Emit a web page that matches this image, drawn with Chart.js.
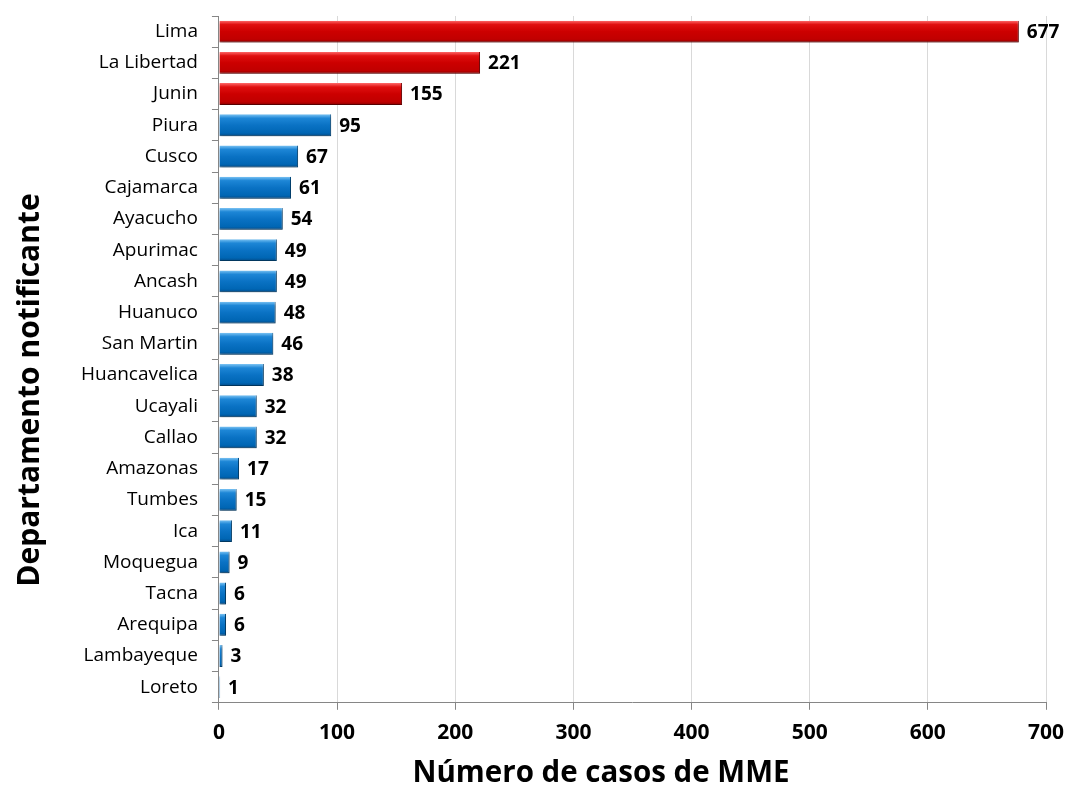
<!DOCTYPE html>
<html>
<head>
<meta charset="utf-8">
<script src="https://cdn.jsdelivr.net/npm/chart.js@4"></script>
<style>
    html, body { margin: 0; padding: 0; background: #fff; }
    #wrap { width: 1066px; height: 791px; }
</style>
</head>
<body>
<div id="wrap"><canvas id="mmeChart"></canvas></div>
<script>
// Data
const departamentos = ['Lima', 'La Libertad', 'Junin', 'Piura', 'Cusco', 'Cajamarca', 'Ayacucho', 'Apurimac',
    'Ancash', 'Huanuco', 'San Martin', 'Huancavelica', 'Ucayali', 'Callao', 'Amazonas', 'Tumbes', 'Ica',
    'Moquegua', 'Tacna', 'Arequipa', 'Lambayeque', 'Loreto'];
const casos = [677, 221, 155, 95, 67, 61, 54, 49, 49, 48, 46, 38, 32, 32, 17, 15, 11, 9, 6, 6, 3, 1];
const destacados = ['Lima', 'La Libertad', 'Junin'];
const xTicks = [0, 100, 200, 300, 400, 500, 600, 700];

const FONT = "'Open Sans', 'Noto Sans', sans-serif";

// gradient per bar, lighter top edge like the Excel bevel
function barFill(context) {
    const chart = context.chart;
    const yScale = chart.scales.y;
    if (!chart.chartArea || !yScale || context.dataIndex === undefined) return '#0070C0';
    const red = destacados.includes(departamentos[context.dataIndex]);
    const yc = yScale.getPixelForValue(context.dataIndex);
    const h = 22;
    const g = chart.ctx.createLinearGradient(0, yc - h / 2, 0, yc + h / 2);
    if (red) {
        g.addColorStop(0, '#ff6a6a');
        g.addColorStop(0.18, '#e01010');
        g.addColorStop(0.5, '#cc0000');
        g.addColorStop(0.85, '#c00000');
        g.addColorStop(1, '#8a0000');
    } else {
        g.addColorStop(0, '#7cc4f4');
        g.addColorStop(0.18, '#1d86d6');
        g.addColorStop(0.5, '#0a72c4');
        g.addColorStop(0.85, '#0066b4');
        g.addColorStop(1, '#034a86');
    }
    return g;
}

// value labels at the end of each bar
const valueLabels = {
    id: 'valueLabels',
    afterDatasetsDraw(chart) {
        const ctx = chart.ctx;
        const meta = chart.getDatasetMeta(0);
        ctx.save();
        ctx.font = 'bold 19px ' + FONT;
        ctx.fillStyle = '#000';
        ctx.textBaseline = 'middle';
        ctx.textAlign = 'left';
        meta.data.forEach((bar, i) => {
            ctx.fillText(String(casos[i]), bar.x + 8, bar.y + 1);
        });
        ctx.restore();
    }
};

// soft shadow under the bars
const barShadow = {
    id: 'barShadow',
    beforeDatasetsDraw(chart) {
        chart.ctx.save();
        chart.ctx.shadowColor = 'rgba(0,0,0,0.35)';
        chart.ctx.shadowBlur = 3;
        chart.ctx.shadowOffsetX = 1;
        chart.ctx.shadowOffsetY = 2;
    },
    afterDatasetsDraw(chart) {
        chart.ctx.restore();
    }
};

// axis titles, placed like in the original (not centred on the plot)
const axisTitles = {
    id: 'axisTitles',
    afterDraw(chart) {
        const ctx = chart.ctx;
        ctx.save();
        ctx.fillStyle = '#000';
        ctx.textAlign = 'center';
        ctx.textBaseline = 'middle';
        ctx.font = 'bold 29.5px ' + FONT;
        ctx.fillText('Número de casos de MME', 601, 774);
        ctx.translate(30, 390);
        ctx.rotate(-Math.PI / 2);
        ctx.font = 'bold 30px ' + FONT;
        ctx.fillText('Departamento notificante', 0, 0);
        ctx.restore();
    }
};

function init() {
    const ctx = document.getElementById('mmeChart').getContext('2d');
    new Chart(ctx, {
        type: 'bar',
        data: {
            labels: departamentos,
            datasets: [{
                data: casos,
                backgroundColor: barFill,
                borderColor: (c) => destacados.includes(departamentos[c.dataIndex]) ? '#7a0000' : '#024a80',
                borderWidth: { top: 0, left: 0, right: 1, bottom: 1 },
                borderSkipped: 'left',
                categoryPercentage: 1,
                barPercentage: 0.7
            }]
        },
        options: {
            indexAxis: 'y',
            responsive: true,
            maintainAspectRatio: false,
            animation: false,
            layout: { padding: { top: 16, right: 20, left: 67, bottom: 34 } },
            plugins: {
                legend: { display: false },
                tooltip: { enabled: false }
            },
            scales: {
                x: {
                    min: 0,
                    max: 700,
                    afterBuildTicks: (scale) => { scale.ticks = xTicks.map(v => ({ value: v })); },
                    afterFit: (scale) => { scale.paddingRight = 0; scale.paddingLeft = 0; },
                    grid: { color: '#d9d9d9', lineWidth: 1, tickColor: '#868686', tickLength: 7 },
                    border: { color: '#868686', width: 1 },
                    ticks: {
                        color: '#000',
                        font: { family: FONT, size: 21, weight: 'bold' },
                        padding: 11
                    }
                },
                y: {
                    offset: true,
                    afterFit: (scale) => { scale.paddingTop = 0; scale.paddingBottom = 0; },
                    grid: { offset: true, drawOnChartArea: false, tickColor: '#868686', tickLength: 7 },
                    border: { color: '#868686', width: 1 },
                    ticks: {
                        color: '#000',
                        font: { family: FONT, size: 19 },
                        padding: 14,
                        autoSkip: false
                    }
                }
            }
        },
        plugins: [barShadow, valueLabels, axisTitles]
    });
}

document.addEventListener('DOMContentLoaded', init);
</script>
</body>
</html>
